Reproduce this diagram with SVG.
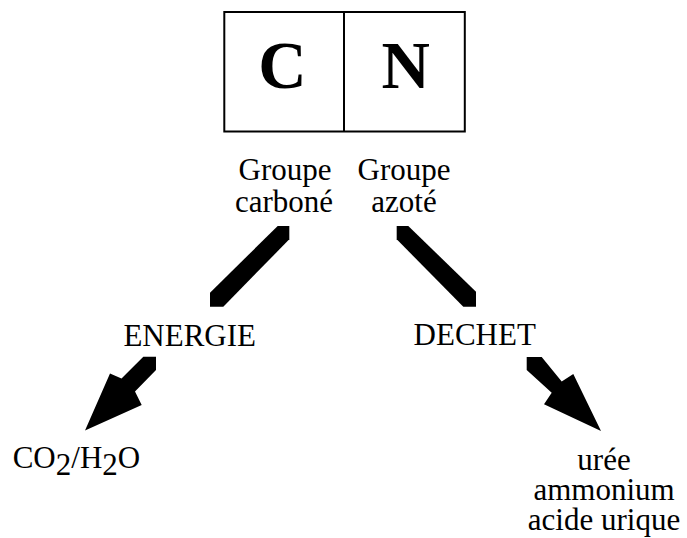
<svg xmlns="http://www.w3.org/2000/svg" width="687" height="538" viewBox="0 0 687 538">
<style>
text{font-family:"Liberation Serif","Times New Roman",serif;fill:#000;text-anchor:middle}
.t{font-size:31px}
.big{font-size:67px;font-weight:bold}
.box{fill:#fff;stroke:#000;stroke-width:2}
.arr{fill:#000;stroke:none}
</style>
<rect width="687" height="538" fill="#fff"/>
<g id="box-CN">
<rect class="box" x="224.3" y="12" width="240.5" height="119.5"/>
<line x1="344" y1="12" x2="344" y2="131.5" stroke="#000" stroke-width="2"/>
<text class="big" x="282.5" y="88">C</text>
<text class="big" x="405.8" y="88">N</text>
</g>
<g id="label-carbone">
<text class="t" x="285" y="180">Groupe</text>
<text class="t" x="284" y="211.7">carboné</text>
</g>
<g id="label-azote">
<text class="t" x="404" y="180">Groupe</text>
<text class="t" x="404" y="211.7">azoté</text>
</g>
<g id="node-energie">
<text class="t" x="189.7" y="346">ENERGIE</text>
</g>
<g id="node-dechet">
<text class="t" x="474.7" y="345">DECHET</text>
</g>
<g id="node-co2">
<text class="t" x="12.7" y="468.3" style="text-anchor:start">CO<tspan dy="7">2</tspan><tspan dy="-7">/H</tspan><tspan dy="7">2</tspan><tspan dy="-7">O</tspan></text>
</g>
<g id="node-uree">
<text class="t" x="604" y="470">urée</text>
<text class="t" x="604" y="500">ammonium</text>
<text class="t" x="604" y="530">acide urique</text>
</g>
<g id="connectors">
<polygon class="arr" points="277.7,226 289.3,226 289.3,239.3 223.3,306.7 210,306.7 210,292.7"/>
<polygon class="arr" points="396.7,226 408.3,226 476,291.7 476,306.7 463.3,306.7 396.7,239.3"/>
<polygon class="arr" points="143.3,356.7 156,356.7 156,370 135,391.5 141.7,405 85,430.5 110,373.5 121.5,378.5"/>
<polygon class="arr" points="526.7,357 541.7,357 561.7,381.5 573.3,374 601,431 544,404.3 551.7,392.7 526.7,370"/>
</g>
</svg>
